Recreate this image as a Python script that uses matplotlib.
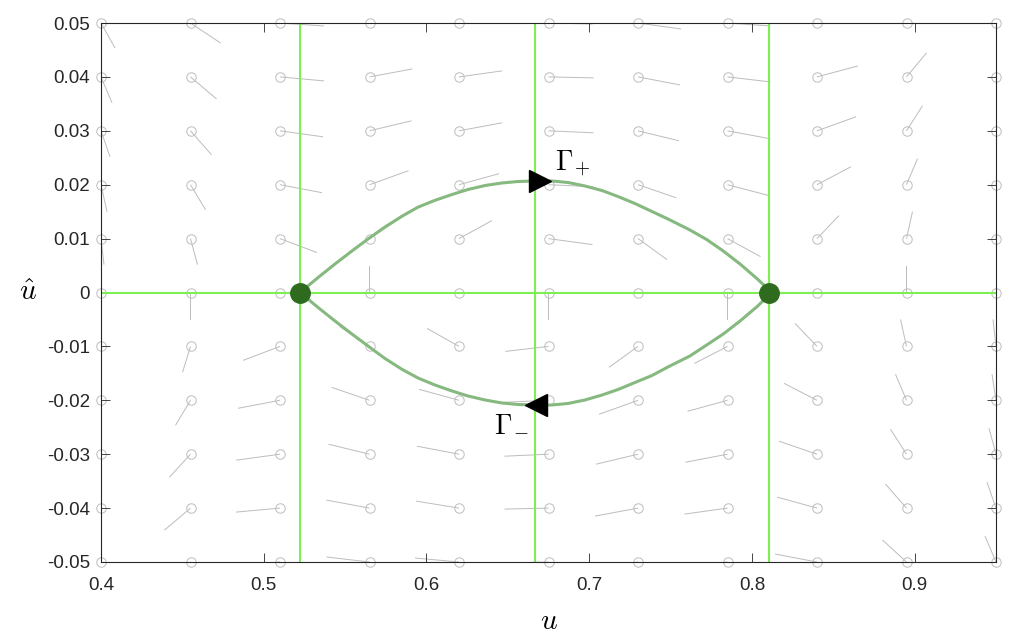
import numpy as np
import matplotlib.pyplot as plt
from matplotlib.ticker import FuncFormatter

plt.rcParams['mathtext.fontset'] = 'cm'
plt.rcParams['axes.unicode_minus'] = False
plt.rcParams['font.family'] = ['Liberation Sans', 'DejaVu Sans']

# DATA

# grid of the direction field
u_grid = [0.4, 0.455, 0.51, 0.565, 0.62, 0.675, 0.73, 0.785, 0.84, 0.895, 0.95]
uhat_grid = [0.05, 0.04, 0.03, 0.02, 0.01, 0.0, -0.01, -0.02, -0.03, -0.04, -0.05]

# direction field components (rows follow uhat_grid)
du = [
    [14, 30, 44, 43, 44, 44, 43, 43, 42, 24, 11],
    [11, 26, 44, 43, 43, 45, 42, 43, 41, 20, 9],
    [9, 21, 43, 42, 43, 45, 41, 43, 39, 16, 7],
    [6, 15, 42, 39, 40, 45, 38, 42, 34, 11, 4],
    [3, 7, 37, 30, 33, 44, 29, 33, 22, 6, 3],
    [0, 0, 0, 0, 0, 0, 0, 0, 0, 0, 0],
    [-3, -8, -37, -30, -32, -43, -29, -33, -22, -6, -3],
    [-6, -15, -42, -38, -40, -45, -39, -40, -33, -11, -4],
    [-9, -21, -44, -41, -42, -44, -42, -42, -38, -16, -7],
    [-11, -26, -44, -43, -43, -44, -43, -43, -40, -21, -9],
    [-14, -30, -44, -43, -44, -44, -43, -43, -42, -24, -11],
]
dv = [
    [-25, -20, -3, 5, 4, -1, -6, -3, 8, 22, 26],
    [-26, -22, -4, 8, 6, -1, -8, -5, 11, 24, 26],
    [-26, -24, -6, 10, 8, -2, -10, -8, 14, 25, 26],
    [-27, -25, -8, 14, 11, -2, -13, -11, 18, 26, 26],
    [-26, -26, -14, 20, 18, -6, -21, -18, 23, 27, 27],
    [-26, -27, -27, 27, 26, -27, -27, -27, 27, 27, 27],
    [-26, -26, -14, 20, 18, -5, -21, -17, 23, 27, 27],
    [-27, -25, -8, 13, 11, -2, -14, -11, 17, 26, 26],
    [-26, -23, -6, 10, 8, -2, -10, -8, 13, 25, 26],
    [-25, -22, -4, 8, 7, -1, -8, -6, 11, 24, 26],
    [-25, -20, -3, 5, 4, -1, -6, -3, 8, 22, 26],
]

# nullclines and equilibria
null_u = [0.5223, 0.6667, 0.8107]
eq_u = [0.5223, 0.8107]
eq_uhat = [0.0, 0.0]

# heteroclinic orbits (Gamma+ above, Gamma- below)
orbit_u = [0.5223, 0.5334, 0.5438, 0.5542, 0.5641, 0.5745, 0.5850, 0.5948,
           0.6052, 0.6157, 0.6255, 0.6360, 0.6464, 0.6562, 0.6667, 0.6771,
           0.6870, 0.6974, 0.7079, 0.7177, 0.7281, 0.7386, 0.7484, 0.7619,
           0.7722, 0.7824, 0.7927, 0.8029, 0.8080, 0.8107]
gp_uhat = [0.0, 0.00278, 0.00529, 0.0077, 0.00993, 0.01215, 0.01416, 0.01583,
           0.01710, 0.01818, 0.01911, 0.01985, 0.02032, 0.02059, 0.02069, 0.02069,
           0.02041, 0.01976, 0.01892, 0.01781, 0.01651, 0.01503, 0.01364, 0.0116,
           0.00983, 0.0077, 0.00529, 0.00263, 0.0012, 0.0]
gm_uhat = [0.0, -0.00278, -0.00529, -0.0077, -0.00993, -0.01224, -0.01426, -0.01586,
           -0.01716, -0.01827, -0.0192, -0.01994, -0.0205, -0.02078, -0.02087, -0.02087,
           -0.02059, -0.01994, -0.01902, -0.018, -0.0167, -0.0154, -0.01382, -0.01178,
           -0.00974, -0.0077, -0.00529, -0.00269, -0.00121, 0.0]

# direction arrows on the orbits and labels
arrow_u = [0.6698, 0.6673]
arrow_uhat = [0.0207, -0.0208]
label_u = [0.679, 0.6415]
label_uhat = [0.0225, -0.0256]
label_txt = [r'$\Gamma_{\!+}$', r'$\Gamma_{\!-}$']

# FIGURE
fig = plt.figure(figsize=(10.24, 6.4), dpi=100)
ax = fig.add_axes([101/1024, 1-562/640, 895/1024, 539/640])

U, V = np.meshgrid(u_grid, uhat_grid)
ku = 0.55/895   # reading units -> u
kv = 0.1/539    # reading units -> uhat
ax.quiver(U, V, np.array(du)*ku, np.array(dv)*kv, angles='xy', scale_units='xy',
          scale=1, color='#bdbdbd', width=0.0011, headwidth=0, headlength=0,
          headaxislength=0, zorder=1)
ax.plot(U.ravel(), V.ravel(), 'o', ms=6.8, mfc='none', mec='#bdbdbd', mew=0.7,
        clip_on=False, zorder=1)

for x in null_u:
    ax.axvline(x, color='#7def55', lw=1.5, zorder=2)
ax.axhline(0, color='#7def55', lw=1.5, zorder=2)

ax.plot(orbit_u, gp_uhat, color='#86b97f', lw=2.2, zorder=3, solid_joinstyle='round')
ax.plot(orbit_u, gm_uhat, color='#86b97f', lw=2.2, zorder=3, solid_joinstyle='round')
ax.plot(eq_u, eq_uhat, 'o', ms=14, color='#2e6b1f', zorder=4)
ax.plot(arrow_u[0], arrow_uhat[0], '>', ms=16.5, color='k', zorder=5)
ax.plot(arrow_u[1], arrow_uhat[1], '<', ms=16.5, color='k', zorder=5)
for x, y, t in zip(label_u, label_uhat, label_txt):
    ax.text(x, y, t, fontsize=20, va='baseline', ha='left')

# customizing
ax.set_xlim(0.4, 0.95)
ax.set_ylim(-0.05, 0.05)
ax.set_xticks([0.4, 0.5, 0.6, 0.7, 0.8, 0.9])
ax.set_yticks(np.round(np.arange(-0.05, 0.051, 0.01), 2))
ax.xaxis.set_major_formatter(FuncFormatter(lambda v, p: f'{round(v, 2) + 0:g}'))
ax.yaxis.set_major_formatter(FuncFormatter(lambda v, p: f'{round(v, 2) + 0:g}'))
ax.tick_params(direction='in', length=6.5, width=0.6, top=True, right=True,
               labelsize=13.5, colors='#262626')
ax.tick_params(axis='x', pad=11)
ax.tick_params(axis='y', pad=8)
for s in ax.spines.values():
    s.set_color('#262626')
    s.set_linewidth(0.8)

ax.set_xlabel('$u$', fontsize=21)
ax.xaxis.set_label_coords(0.5, -0.083)
ax.set_ylabel(r'$\hat{u}$', fontsize=21, rotation=0, ha='center', va='center')
ax.yaxis.set_label_coords(-0.0816, 0.5)

plt.savefig('out.png', dpi=100)
